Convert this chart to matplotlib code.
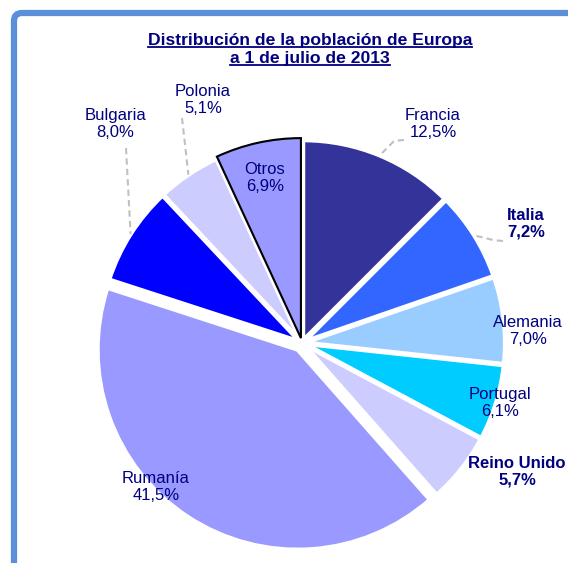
import math

import matplotlib.pyplot as plt
from matplotlib.patches import FancyBboxPatch

plt.rcParams["font.family"] = ["Liberation Sans", "DejaVu Sans"]

W, H = 568, 563

# Datos (porcentaje de la población)
paises = ["Francia", "Italia", "Alemania", "Portugal", "Reino Unido",
          "Rumanía", "Bulgaria", "Polonia", "Otros"]
valores = [12.5, 7.2, 7.0, 6.1, 5.7, 41.5, 8.0, 5.1, 6.9]
colores = ["#333399", "#3366FF", "#99CCFF", "#00CCFF", "#CCCCFF",
           "#9999FF", "#0000FF", "#CCCCFF", "#9999FF"]
negrita = ["Italia", "Reino Unido"]

# posiciones de las etiquetas en píxeles (x, y desde arriba)
pos_etiquetas = {
    "Francia": (433, 124), "Italia": (526, 224), "Alemania": (528, 331),
    "Portugal": (500, 403), "Reino Unido": (517, 472), "Rumanía": (156, 487),
    "Bulgaria": (115, 124), "Polonia": (203, 100), "Otros": (265, 178),
}
# inicio de las líneas guía (píxeles)
guias = {
    "Francia": [(404, 140), (394, 141)],
    "Italia": [(503, 241), (493, 240)],
    "Bulgaria": [(126, 148)],
    "Polonia": [(182, 118)],
}

NAVY = "#000080"


def px(x, y):
    """ convierte píxeles de imagen a coordenadas del eje """
    return x, H - y


fig = plt.figure(figsize=(W / 100, H / 100), dpi=100)
ax = fig.add_axes([0, 0, 1, 1])

explode = [3, 3, 3, 3, 3, 8, 3, 3, 5]
wedges, _ = ax.pie(valores, colors=colores, explode=explode, startangle=90,
                   counterclock=False, center=px(302, 343), radius=200,
                   wedgeprops=dict(edgecolor="white", linewidth=3))
wedges[-1].set_edgecolor("black")
wedges[-1].set_linewidth(1.5)

ax.set_xlim(0, W)
ax.set_ylim(0, H)
ax.set_aspect("equal")
ax.axis("off")

for w, pais, val in zip(wedges, paises, valores):
    x, y = px(*pos_etiquetas[pais])
    txt = "%s\n%s%%" % (pais, ("%.1f" % val).replace(".", ","))
    ax.text(x, y, txt, ha="center", va="center", fontsize=12, color=NAVY,
            fontweight="bold" if pais in negrita else "normal",
            linespacing=1.15)
    if pais in guias:
        tm = math.radians((w.theta1 + w.theta2) / 2)
        cx, cy = w.center
        punto = (cx + w.r * math.cos(tm), cy + w.r * math.sin(tm))
        pts = [px(*p) for p in guias[pais]] + [punto]
        ax.plot([p[0] for p in pts], [p[1] for p in pts], color="#C0C0C0",
                lw=1.5, ls=(0, (3, 2)))

# Marco azul
marco = FancyBboxPatch(px(14, 613), 640, 600,
                       boxstyle="round,pad=0,rounding_size=8",
                       fc="none", ec="#5B8FD8", lw=4.5, clip_on=False)
ax.add_patch(marco)

# Título subrayado
titulos = [("Distribución de la población de Europa", 40),
           ("a 1 de julio de 2013", 58)]
fig.canvas.draw()
for t, y in titulos:
    tt = ax.text(*px(310, y), t, ha="center", va="center", fontsize=12.6,
                 fontweight="bold", color=NAVY)
    bb = tt.get_window_extent(renderer=fig.canvas.get_renderer())
    bb = bb.transformed(ax.transData.inverted())
    ax.plot([bb.x0, bb.x1], [bb.y0 + 1, bb.y0 + 1], color=NAVY, lw=1.3)

fig.savefig("out.png", dpi=100)
